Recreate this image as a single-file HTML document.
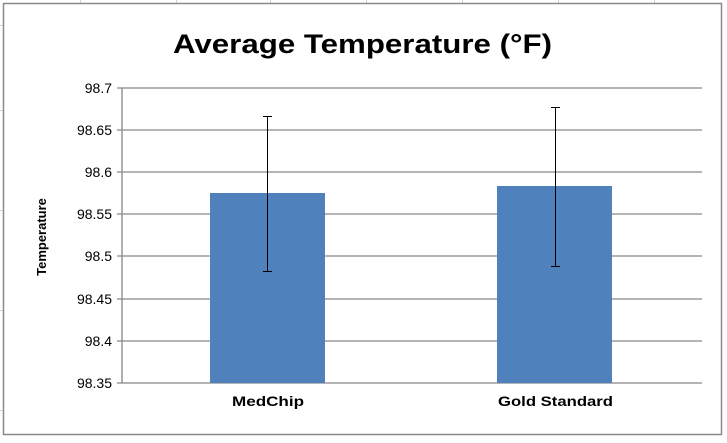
<!DOCTYPE html><html><head><style>body{margin:0;background:#fff}</style></head><body>
<svg width="727" height="438" xmlns="http://www.w3.org/2000/svg" font-family="Liberation Sans, sans-serif">
<rect width="727" height="438" fill="#fff"/>
<g stroke="#c8d4e8" stroke-width="1">
<line x1="80.5" y1="0" x2="80.5" y2="4"/><line x1="176.5" y1="0" x2="176.5" y2="4"/><line x1="270.5" y1="0" x2="270.5" y2="4"/><line x1="366.5" y1="0" x2="366.5" y2="4"/><line x1="462.5" y1="0" x2="462.5" y2="4"/><line x1="558.5" y1="0" x2="558.5" y2="4"/><line x1="654.5" y1="0" x2="654.5" y2="4"/>
<line x1="0" y1="25.5" x2="3" y2="25.5"/><line x1="0" y1="110.5" x2="3" y2="110.5"/><line x1="0" y1="210.5" x2="3" y2="210.5"/><line x1="0" y1="310.5" x2="3" y2="310.5"/><line x1="0" y1="410.5" x2="3" y2="410.5"/>
</g>
<rect x="3.5" y="3.5" width="718" height="431" fill="#fff" stroke="#8a8a8a" stroke-width="1.5"/>
<text x="173" y="53" font-size="27" font-weight="bold" textLength="379" lengthAdjust="spacingAndGlyphs">Average Temperature (°F)</text>
<g stroke="#868686" stroke-width="1.3">
<line x1="117" y1="88" x2="702" y2="88"/><line x1="117" y1="130" x2="702" y2="130"/><line x1="117" y1="172" x2="702" y2="172"/><line x1="117" y1="214" x2="702" y2="214"/><line x1="117" y1="256" x2="702" y2="256"/><line x1="117" y1="299" x2="702" y2="299"/><line x1="117" y1="341" x2="702" y2="341"/><line x1="117" y1="383" x2="702" y2="383"/>
<line x1="122" y1="88" x2="122" y2="383"/>
</g>
<g font-size="14" text-anchor="end" fill="#000">
<text x="112" y="93">98.7</text><text x="112" y="135">98.65</text><text x="112" y="177">98.6</text><text x="112" y="219">98.55</text><text x="112" y="261">98.5</text><text x="112" y="304">98.45</text><text x="112" y="346">98.4</text><text x="112" y="388">98.35</text>
</g>
<rect x="210" y="193" width="115" height="190" fill="#4f81bd"/>
<rect x="497" y="186" width="115" height="197" fill="#4f81bd"/>
<g stroke="#000" stroke-width="1">
<line x1="267.5" y1="116" x2="267.5" y2="272"/><line x1="263" y1="116.5" x2="272" y2="116.5"/><line x1="263" y1="271.5" x2="272" y2="271.5"/>
<line x1="555.5" y1="107" x2="555.5" y2="267"/><line x1="551" y1="107.5" x2="560" y2="107.5"/><line x1="551" y1="266.5" x2="560" y2="266.5"/>
</g>
<g font-size="14" font-weight="bold">
<text x="232" y="406" textLength="72" lengthAdjust="spacingAndGlyphs">MedChip</text><text x="498" y="406" textLength="115" lengthAdjust="spacingAndGlyphs">Gold Standard</text>
</g>
<text transform="translate(46,237) rotate(-90)" font-size="13" font-weight="bold" text-anchor="middle">Temperature</text>
</svg>
</body></html>
